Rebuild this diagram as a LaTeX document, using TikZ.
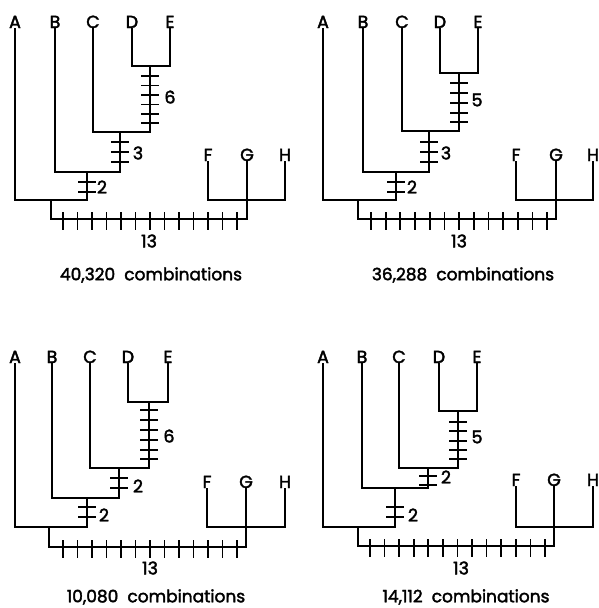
\documentclass[tikz,border=0pt]{standalone}
\usepackage{fontspec}
\setmainfont{Poppins}[BoldFont=Poppins,BoldFeatures={FakeBold=2.2}]
\begin{document}
\begin{tikzpicture}[x=1pt,y=-1pt,
  br/.style={line width=1.8pt,line cap=rect},
  tk/.style={line width=1.7pt},
  lab/.style={anchor=base,inner sep=1pt,font=\fontsize{17.5}{18}\selectfont\bfseries},
  num/.style={inner sep=0pt,font=\fontsize{17.5}{18}\selectfont\bfseries},
  captext/.style={inner sep=0pt,font=\fontsize{17}{18}\selectfont\bfseries}]
\useasboundingbox (0,0) rectangle (598,608);

% ================= Panel 1 =================
\foreach \n/\x in {A/15,B/55,C/93,D/132,E/170} \node[lab] (a\n) at (\x,28) {\n};
\foreach \n/\x in {F/208,G/247,H/285} \node[lab] (a\n) at (\x,161) {\n};
\coordinate (aDE) at (150,66);
\coordinate (aCS) at (150,132);
\coordinate (aCJ) at (120,132);
\coordinate (aBS) at (120,172);
\coordinate (aBJ) at (87,172);
\coordinate (aAS) at (87,200);
\coordinate (aAJ) at (51,200);
\coordinate (aGB) at (247,219);
\coordinate (aFH) at (285,200);
\draw[br] (aD.south) |- (aDE) -| (aE.south);
\draw[br] (aDE) -- (aCS);
\draw[br] (aC.south) |- (aCS);
\draw[br] (aCJ) -- (aBS);
\draw[br] (aB.south) |- (aBS);
\draw[br] (aBJ) -- (aAS);
\draw[br] (aA.south) |- (aAS);
\draw[br] (aAJ) |- (aGB);
\draw[br] (aG.south) -- (aGB);
\draw[br] (aF.south) |- (aFH) -- (aH.south);
\foreach \y in {76,85.5,95,104.5,114,123} \draw[tk] (141,\y) -- (159,\y);
\foreach \y in {142,152,162} \draw[tk] (111,\y) -- (129,\y);
\foreach \y in {182,192} \draw[tk] (78,\y) -- (96,\y);
\foreach \i in {0,...,12} \draw[tk] ({63+14.5*\i},212) -- ++(0,18);
\node[num] (a6) at (170,97) {6};
\node[num] (a3) at (138,153) {3};
\node[num] (a2) at (102,187) {2};
\node[num] (a13) at (149,241) {13};
\node[captext] (acap) at (151,275) {40,320\ \ combinations};

% ================= Panel 2 =================
\foreach \n/\x in {A/323,B/363,C/402,D/440,E/478} \node[lab] (b\n) at (\x,28) {\n};
\foreach \n/\x in {F/516,G/556,H/593} \node[lab] (b\n) at (\x,161) {\n};
\coordinate (bDE) at (459,73);
\coordinate (bCS) at (459,131);
\coordinate (bCJ) at (429,131);
\coordinate (bBS) at (429,172);
\coordinate (bBJ) at (396,172);
\coordinate (bAS) at (396,200);
\coordinate (bAJ) at (358,200);
\coordinate (bGB) at (556,219);
\coordinate (bFH) at (593,200);
\draw[br] (bD.south) |- (bDE) -| (bE.south);
\draw[br] (bDE) -- (bCS);
\draw[br] (bC.south) |- (bCS);
\draw[br] (bCJ) -- (bBS);
\draw[br] (bB.south) |- (bBS);
\draw[br] (bBJ) -- (bAS);
\draw[br] (bA.south) |- (bAS);
\draw[br] (bAJ) |- (bGB);
\draw[br] (bG.south) -- (bGB);
\draw[br] (bF.south) |- (bFH) -- (bH.south);
\foreach \y in {83,93,103,113,122} \draw[tk] (450,\y) -- (468,\y);
\foreach \y in {142,152,162} \draw[tk] (420,\y) -- (438,\y);
\foreach \y in {182,192} \draw[tk] (387,\y) -- (405,\y);
\foreach \i in {0,...,12} \draw[tk] ({371+14.67*\i},212) -- ++(0,18);
\node[num] (b5) at (477,100) {5};
\node[num] (b3) at (446,153) {3};
\node[num] (b2) at (412,187) {2};
\node[num] (b13) at (459,241) {13};
\node[captext] (bcap) at (463,275) {36,288\ \ combinations};

% ================= Panel 3 =================
\foreach \n/\x in {A/15,B/52,C/90,D/128,E/168} \node[lab] (c\n) at (\x,363) {\n};
\foreach \n/\x in {F/207,G/246,H/285} \node[lab] (c\n) at (\x,488) {\n};
\coordinate (cDE) at (149,402);
\coordinate (cCS) at (149,468);
\coordinate (cCJ) at (119,468);
\coordinate (cBS) at (119,498);
\coordinate (cBJ) at (87,498);
\coordinate (cAS) at (87,527);
\coordinate (cAJ) at (49,527);
\coordinate (cGB) at (246,547);
\coordinate (cFH) at (285,527);
\draw[br] (cD.south) |- (cDE) -| (cE.south);
\draw[br] (cDE) -- (cCS);
\draw[br] (cC.south) |- (cCS);
\draw[br] (cCJ) -- (cBS);
\draw[br] (cB.south) |- (cBS);
\draw[br] (cBJ) -- (cAS);
\draw[br] (cA.south) |- (cAS);
\draw[br] (cAJ) |- (cGB);
\draw[br] (cG.south) -- (cGB);
\draw[br] (cF.south) |- (cFH) -- (cH.south);
\foreach \y in {410,420,430,440,450,459} \draw[tk] (140,\y) -- (158,\y);
\foreach \y in {478,488} \draw[tk] (110,\y) -- (128,\y);
\foreach \y in {507,517} \draw[tk] (78,\y) -- (96,\y);
\foreach \i in {0,...,12} \draw[tk] ({63+14.5*\i},540) -- ++(0,18);
\node[num] (c6) at (169,436) {6};
\node[num] (c2a) at (138,486) {2};
\node[num] (c2b) at (104,515) {2};
\node[num] (c13) at (150,568) {13};
\node[captext] (ccap) at (156,597) {10,080\ \ combinations};

% ================= Panel 4 =================
\foreach \n/\x in {A/323,B/362,C/399,D/439,E/477} \node[lab] (d\n) at (\x,363) {\n};
\foreach \n/\x in {F/516,G/554,H/593} \node[lab] (d\n) at (\x,486) {\n};
\coordinate (dDE) at (458,411);
\coordinate (dCS) at (458,468);
\coordinate (dCJ) at (428,468);
\coordinate (dBS) at (428,488);
\coordinate (dBJ) at (395,488);
\coordinate (dAS) at (395,527);
\coordinate (dAJ) at (358,527);
\coordinate (dGB) at (554,546);
\coordinate (dFH) at (593,527);
\draw[br] (dD.south) |- (dDE) -| (dE.south);
\draw[br] (dDE) -- (dCS);
\draw[br] (dC.south) |- (dCS);
\draw[br] (dCJ) -- (dBS);
\draw[br] (dB.south) |- (dBS);
\draw[br] (dBJ) -- (dAS);
\draw[br] (dA.south) |- (dAS);
\draw[br] (dAJ) |- (dGB);
\draw[br] (dG.south) -- (dGB);
\draw[br] (dF.south) |- (dFH) -- (dH.south);
\foreach \y in {422,431,441,450,459} \draw[tk] (449,\y) -- (467,\y);
\foreach \y in {476,485} \draw[tk] (419,\y) -- (437,\y);
\foreach \y in {507,517} \draw[tk] (386,\y) -- (404,\y);
\foreach \i in {0,...,12} \draw[tk] ({370+14.58*\i},539) -- ++(0,18);
\node[num] (d5) at (477,437) {5};
\node[num] (d2a) at (446,477) {2};
\node[num] (d2b) at (413,515) {2};
\node[num] (d13) at (461,568) {13};
\node[captext] (dcap) at (466,597) {14,112\ \ combinations};
\end{tikzpicture}
\end{document}
